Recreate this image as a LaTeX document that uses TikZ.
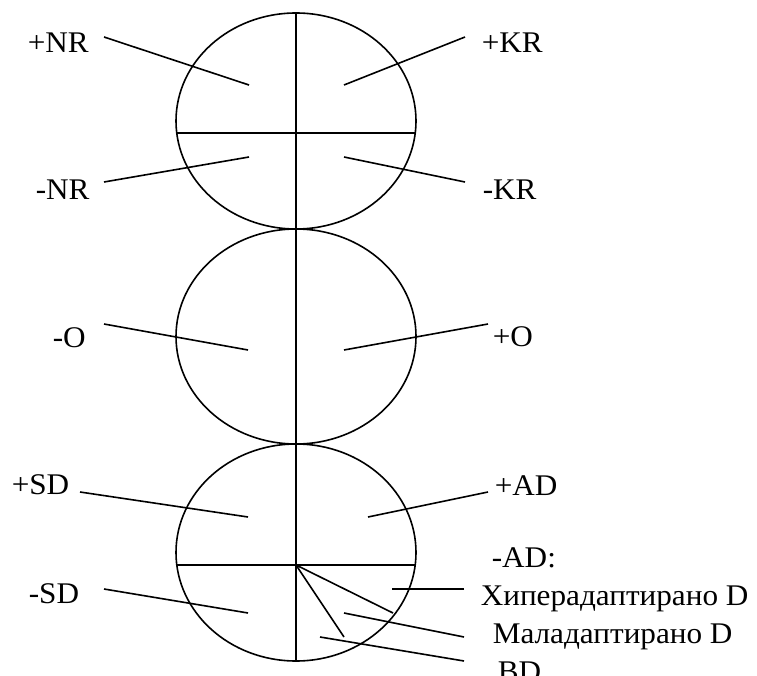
\documentclass[tikz,border=0pt]{standalone}
\usepackage{graphicx}
\usepackage{fontspec}
\setmainfont{Liberation Serif}
\newcommand\lbltext[1]{\scalebox{1.04}[1]{#1}}
\begin{document}
\begin{tikzpicture}[x=1pt,y=-1pt,line width=1.6pt,
  lab/.style={anchor=base west,inner sep=0pt,font=\fontsize{30}{34}\selectfont}]
\useasboundingbox (0,0) rectangle (757,676);
% ellipses
\draw (296,121) ellipse [x radius=120pt,y radius=108pt];
\draw (296,336.5) ellipse [x radius=120pt,y radius=107.5pt];
\draw (296,552.5) ellipse [x radius=120pt,y radius=108.5pt];
% axis and dividers
\coordinate (vt) at (296,13);
\coordinate (vb) at (296,661);
\draw (vt) -- (vb);
\coordinate (h1l) at (176.7,133);
\coordinate (h1r) at (415.3,133);
\draw (h1l) -- (h1r);
\coordinate (h3l) at (176.8,565);
\coordinate (h3r) at (415.2,565);
\coordinate (c3) at (296,565);
\draw (h3l) -- (h3r);
% labels
\node[lab] (pnr) at (27,53) {\lbltext{+NR}};
\node[lab] (pkr) at (481,53) {\lbltext{+KR}};
\node[lab] (mnr) at (35,200) {\lbltext{-NR}};
\node[lab] (mkr) at (482,200) {\lbltext{-KR}};
\node[lab] (mo) at (52,347) {\lbltext{-O}};
\node[lab] (po) at (492,346) {\lbltext{+O}};
\node[lab] (psd) at (11,494) {\lbltext{+SD}};
\node[lab] (pad) at (494,495) {\lbltext{+AD}};
\node[lab] (msd) at (28,603) {\lbltext{-SD}};
\node[lab] (mad) at (491,567) {\lbltext{-AD:}};
\node[lab] (hip) at (480,605) {\lbltext{Хиперадаптирано D}};
\node[lab] (mal) at (492,643) {\lbltext{Маладаптирано D}};
\node[lab] (bd) at (497,681) {\lbltext{BD}};
% connector end points
\coordinate (a1) at (104,37);  \coordinate (b1) at (249,85);
\coordinate (a2) at (465,37);  \coordinate (b2) at (344,85);
\coordinate (a3) at (104,182); \coordinate (b3) at (249,157);
\coordinate (a4) at (465,182); \coordinate (b4) at (344,157);
\coordinate (a5) at (104,324); \coordinate (b5) at (248,350);
\coordinate (a6) at (488,324); \coordinate (b6) at (344,350);
\coordinate (a7) at (80,492);  \coordinate (b7) at (248,517);
\coordinate (a8) at (488,492); \coordinate (b8) at (368,517);
\coordinate (a9) at (104,589); \coordinate (b9) at (248,613);
\coordinate (a10) at (464,589); \coordinate (b10) at (392,589);
\coordinate (a11) at (464,637); \coordinate (b11) at (344,613);
\coordinate (a12) at (464,661); \coordinate (b12) at (320,637);
\coordinate (f1) at (393,613);
\coordinate (f2) at (344,637);
\draw (a1) -- (b1);
\draw (a2) -- (b2);
\draw (a3) -- (b3);
\draw (a4) -- (b4);
\draw (a5) -- (b5);
\draw (a6) -- (b6);
\draw (a7) -- (b7);
\draw (a8) -- (b8);
\draw (a9) -- (b9);
\draw (a10) -- (b10);
\draw (a11) -- (b11);
\draw (a12) -- (b12);
\draw (c3) -- (f1);
\draw (c3) -- (f2);
\end{tikzpicture}
\end{document}
